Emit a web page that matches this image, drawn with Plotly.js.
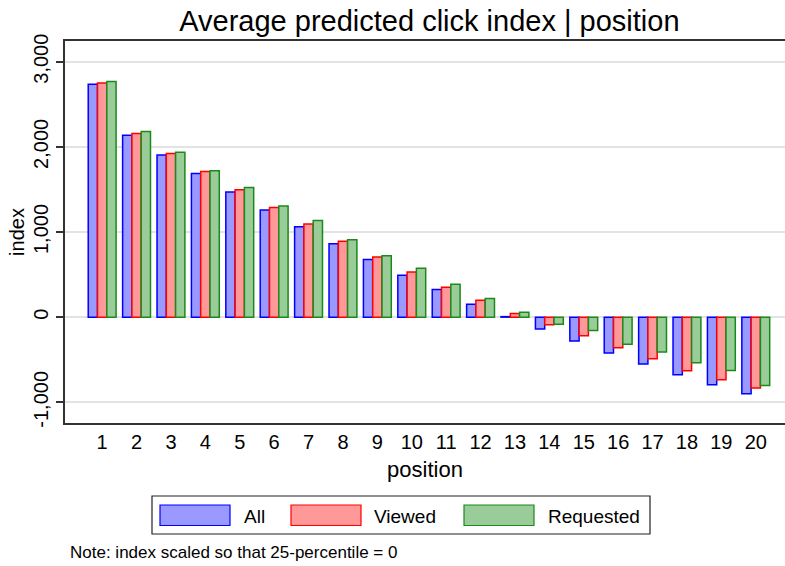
<!DOCTYPE html>
<html>
<head>
<meta charset="utf-8">
<script src="https://cdn.plot.ly/plotly-3.0.1.min.js"></script>
<style>
  body { margin: 0; background: #fff; }
  #chart { width: 785px; height: 566px; }
</style>
</head>
<body>
<div id="chart"></div>
<script>
// positions 1..20
const positions = [1, 2, 3, 4, 5, 6, 7, 8, 9, 10, 11, 12, 13, 14, 15, 16, 17, 18, 19, 20];
const allIdx = [2735, 2137, 1903, 1688, 1469, 1258, 1062, 863, 676, 492, 324, 152, 6, -139, -281, -422, -551, -676, -793, -899];
const viewedIdx = [2750, 2157, 1922, 1711, 1496, 1289, 1094, 891, 707, 531, 352, 199, 42, -90, -218, -360, -489, -629, -735, -833];
const requestedIdx = [2766, 2180, 1938, 1719, 1524, 1305, 1135, 910, 722, 574, 387, 218, 59, -82, -156, -317, -410, -535, -626, -802];
const seriesNames = ["All", "Viewed", "Requested"];
const yTicks = [-1000, 0, 1000, 2000, 3000];
const yTickText = ["-1,000", "0", "1,000", "2,000", "3,000"];

const fills = ["#9999ff", "#ff9999", "#99cc99"];
const borders = ["#0000ff", "#ff0000", "#1a8a1a"];
const font = "Liberation Sans, Arial, Helvetica, sans-serif";

const traces = [allIdx, viewedIdx, requestedIdx].map((vals, i) => ({
    type: "bar",
    x: positions,
    y: vals,
    name: seriesNames[i],
    marker: { color: fills[i], line: { color: borders[i], width: 1.5 } },
    showlegend: false,
    hoverinfo: "x+y+name"
}));

// plot area in pixels (for legend placement)
const L = 65, T = 41, W = 720, H = 382;
const px = x => (x - L) / W;
const py = y => (T + H - y) / H;

const shapes = [{
    type: "rect", xref: "paper", yref: "paper",
    x0: px(152), x1: px(650), y0: py(534), y1: py(496),
    line: { color: "#222", width: 1.2 }, fillcolor: "rgba(0,0,0,0)"
}];
const annotations = [];
const swatchX = [160, 291, 464];
const labelX = [242, 372, 546];
seriesNames.forEach((n, i) => {
    shapes.push({
        type: "rect", xref: "paper", yref: "paper",
        x0: px(swatchX[i]), x1: px(swatchX[i] + 70), y0: py(525.5), y1: py(505),
        line: { color: borders[i], width: 1.2 }, fillcolor: fills[i]
    });
    annotations.push({
        text: n, xref: "paper", yref: "paper", x: px(labelX[i]), y: py(516),
        xanchor: "left", yanchor: "middle", showarrow: false,
        font: { family: font, size: 19, color: "#000" }
    });
});
annotations.push({
    text: "Note: index scaled so that 25-percentile = 0",
    xref: "paper", yref: "paper", x: px(68), y: py(552),
    xanchor: "left", yanchor: "middle", showarrow: false,
    font: { family: font, size: 17, color: "#000" }
});

const layout = {
    width: 785, height: 566,
    margin: { l: L, r: 0, t: T, b: 566 - T - H },
    paper_bgcolor: "#fff", plot_bgcolor: "#fff",
    font: { family: font, color: "#000" },
    title: { text: "Average predicted click index | position", x: 0.547, xanchor: "center", y: 0.963, yanchor: "middle",
             font: { family: font, size: 29, color: "#000" } },
    barmode: "group", bargap: 0.19, bargroupgap: 0,
    xaxis: {
        range: [-0.08, 20.85], tickvals: positions, ticks: "", showgrid: false, zeroline: false,
        showline: true, linecolor: "#333", linewidth: 1.5, mirror: true,
        tickfont: { size: 20 },
        title: { text: "position", font: { size: 22 }, standoff: 10 }
    },
    yaxis: {
        range: [-1243, 3243], tickvals: yTicks, ticktext: yTickText, tickangle: -90,
        ticks: "outside", ticklen: 7, tickwidth: 1.5, tickcolor: "#333",
        showgrid: true, gridcolor: "#e3e3e3", gridwidth: 1.5, zeroline: false,
        showline: true, linecolor: "#333", linewidth: 1.5,
        tickfont: { size: 20 },
        title: { text: "index", font: { size: 20 }, standoff: 0 }
    },
    shapes: shapes,
    annotations: annotations
};

Plotly.newPlot("chart", traces, layout, { displayModeBar: false });
</script>
</body>
</html>
